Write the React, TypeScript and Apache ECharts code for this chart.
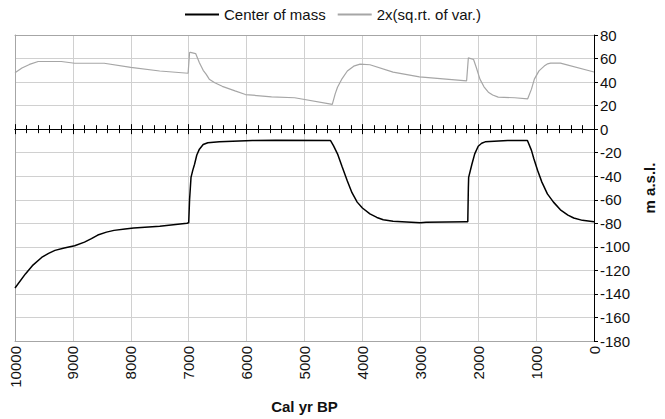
import React, { useEffect, useRef } from "react";
import * as echarts from "echarts";

const comYears = [10000, 9820, 9700, 9540, 9420, 9310, 9150, 8970, 8800, 8680, 8570, 8420, 8290, 8100, 7950, 7500, 7030, 7000, 6985, 6960, 6930, 6900, 6860, 6815, 6750, 6670, 6470, 5900, 5500, 4550, 4500, 4430, 4350, 4260, 4180, 4090, 4000, 3870, 3750, 3640, 3470, 3000, 2900, 2200, 2180, 2170, 2165, 2110, 2060, 2000, 1940, 1880, 1490, 1150, 1080, 1040, 975, 900, 805, 700, 580, 450, 350, 200, 0];
const comValues = [-135, -123, -116, -109, -105.5, -103, -101, -99, -96, -93, -90, -87.5, -86, -84.8, -84, -82.5, -80, -79.5, -60, -41, -35, -30, -22, -17, -13, -11.5, -10.8, -9.7, -9.5, -9.7, -14, -21, -32, -44, -54, -62, -67, -72, -75, -77, -78.3, -79.5, -79, -78.6, -78.6, -50, -41, -30, -21, -14.5, -12, -10.8, -9.7, -9.7, -18, -25, -35, -45, -55, -62, -68.5, -73, -75.5, -77.5, -78.6];

const varYears = [10000, 9880, 9750, 9600, 9200, 8970, 8460, 8000, 7500, 7010, 6985, 6970, 6880, 6815, 6750, 6700, 6645, 6550, 6420, 6200, 6020, 5570, 5170, 4520, 4470, 4430, 4350, 4260, 4150, 4040, 3870, 3470, 3015, 2200, 2170, 2080, 2030, 1970, 1900, 1825, 1750, 1655, 1370, 1145, 1080, 1030, 950, 860, 800, 750, 580, 0];
const varValues = [48, 52, 55, 57.5, 57.5, 56, 56, 52.5, 49.4, 47.5, 65, 65.3, 64.2, 56.4, 50, 46.7, 42.5, 39.5, 36.4, 32.5, 29.4, 27.5, 26.7, 21, 30, 35.6, 43, 49.4, 53.5, 55.3, 54.7, 48.4, 44.4, 41.1, 60.6, 59.2, 52, 42.5, 36, 31.4, 29, 27.2, 26.7, 25.8, 34, 42.5, 49.5, 53.6, 55.5, 56.1, 56.1, 48.6];

const seriesNames = ["Center of mass", "2x(sq.rt. of var.)"];
const xTitle = "Cal yr BP";
const yTitle = "m a.s.l.";

const FONT = "Liberation Sans, Arial, sans-serif";

export default function App() {
  const ref = useRef<HTMLDivElement>(null);
  useEffect(() => {
    if (!ref.current) return;
    const chart = echarts.init(ref.current, null, { renderer: "svg" });
    const xBase = { type: "value", min: 0, max: 10000, interval: 1000, inverse: true, gridIndex: 0 };
    const noLabel = { show: false };
    chart.setOption({
      animation: false,
      backgroundColor: "#fff",
      textStyle: { fontFamily: FONT },
      legend: {
        left: 180,
        top: 2,
        itemWidth: 34,
        itemHeight: 2,
        itemGap: 12,
        icon: "rect",
        textStyle: { fontSize: 15, color: "#111", fontFamily: FONT },
        data: seriesNames,
      },
      grid: { left: 15, right: 61, top: 35, bottom: 72 },
      xAxis: [
        {
          ...xBase,
          position: "bottom",
          name: xTitle,
          nameLocation: "middle",
          nameGap: 58,
          nameTextStyle: { fontSize: 15, fontWeight: "bold", color: "#111", fontFamily: FONT },
          axisLine: { show: true, onZero: false, lineStyle: { color: "#a6a6a6", width: 1 } },
          axisTick: { show: false },
          axisLabel: {
            rotate: 90,
            fontSize: 15,
            color: "#111",
            margin: 5,
            fontFamily: FONT,
            formatter: (v: number) => String(v),
          },
          splitLine: { show: true, lineStyle: { color: "#d0d0d0", width: 1 } },
        },
        {
          ...xBase,
          position: "bottom",
          axisLine: { show: true, onZero: true, onZeroAxisIndex: 0, lineStyle: { color: "#000", width: 1 } },
          axisTick: { show: true, length: 5, lineStyle: { color: "#000" } },
          minorTick: { show: true, splitNumber: 5, length: 4, lineStyle: { color: "#000" } },
          axisLabel: noLabel,
          splitLine: { show: false },
        },
        {
          ...xBase,
          position: "top",
          axisLine: { show: true, onZero: true, onZeroAxisIndex: 0, lineStyle: { color: "#000", width: 1 } },
          axisTick: { show: true, length: 5, lineStyle: { color: "#000" } },
          minorTick: { show: true, splitNumber: 5, length: 4, lineStyle: { color: "#000" } },
          axisLabel: noLabel,
          splitLine: { show: false },
        },
        {
          ...xBase,
          position: "top",
          axisLine: { show: true, onZero: false, lineStyle: { color: "#a6a6a6", width: 1 } },
          axisTick: { show: false },
          axisLabel: noLabel,
          splitLine: { show: false },
        },
      ],
      yAxis: [
        {
          type: "value",
          position: "right",
          min: -180,
          max: 80,
          interval: 20,
          name: yTitle,
          nameLocation: "middle",
          nameRotate: 90,
          nameGap: 48,
          nameTextStyle: { fontSize: 15, fontWeight: "bold", color: "#111", fontFamily: FONT, padding: [0, 0, 20, 0] },
          axisLine: { show: true, onZero: false, lineStyle: { color: "#000", width: 1 } },
          axisTick: { show: true, inside: false, length: 4, lineStyle: { color: "#000" } },
          axisLabel: { fontSize: 15, color: "#111", margin: 6, fontFamily: FONT },
          splitLine: { show: true, lineStyle: { color: "#d0d0d0", width: 1 } },
        },
        {
          type: "value",
          position: "left",
          min: -180,
          max: 80,
          interval: 20,
          axisLine: { show: true, onZero: false, lineStyle: { color: "#a6a6a6", width: 1 } },
          axisTick: { show: false },
          axisLabel: noLabel,
          splitLine: { show: false },
        },
      ],
      series: [
        {
          name: seriesNames[0],
          type: "line",
          xAxisIndex: 0,
          yAxisIndex: 0,
          showSymbol: false,
          symbol: "none",
          color: "#000",
          lineStyle: { color: "#000", width: 1.5 },
          data: comYears.map((y, i) => [y, comValues[i]]),
        },
        {
          name: seriesNames[1],
          type: "line",
          xAxisIndex: 0,
          yAxisIndex: 0,
          showSymbol: false,
          symbol: "none",
          color: "#a6a6a6",
          lineStyle: { color: "#a6a6a6", width: 1.2 },
          data: varYears.map((y, i) => [y, varValues[i]]),
        },
      ],
    });
    return () => chart.dispose();
  }, []);
  return (
    <div
      ref={ref}
      style={{ position: "absolute", left: 0, top: 0, width: 665, height: 419, background: "#fff" }}
    />
  );
}
